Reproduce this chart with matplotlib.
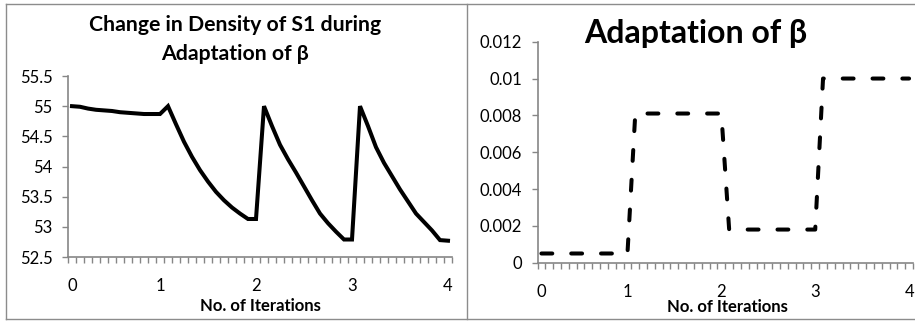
import numpy as np
import matplotlib
matplotlib.use('Agg')
import matplotlib.pyplot as plt
from matplotlib.lines import Line2D

# data (48 categories per chart)
density = [55.00, 54.99, 54.96, 54.94, 54.93, 54.92, 54.90, 54.89, 54.88, 54.87, 54.87, 54.87,
           55.00, 54.70, 54.41, 54.16, 53.94, 53.75, 53.58, 53.44, 53.32, 53.22, 53.13, 53.13,
           55.00, 54.67, 54.36, 54.12, 53.90, 53.67, 53.44, 53.22, 53.06, 52.92, 52.79, 52.79,
           55.00, 54.67, 54.32, 54.06, 53.84, 53.62, 53.42, 53.22, 53.08, 52.94, 52.78, 52.77]

beta = [0.0005, 0.0005, 0.0005, 0.0005, 0.0005, 0.0005, 0.0005, 0.0005, 0.0005, 0.0005, 0.0005, 0.0005,
        0.0081, 0.0081, 0.0081, 0.0081, 0.0081, 0.0081, 0.0081, 0.0081, 0.0081, 0.0081, 0.0081, 0.0081,
        0.0018, 0.0018, 0.0018, 0.0018, 0.0018, 0.0018, 0.0018, 0.0018, 0.0018, 0.0018, 0.0018, 0.0018,
        0.0100, 0.0100, 0.0100, 0.0100, 0.0100, 0.0100, 0.0100, 0.0100, 0.0100, 0.0100, 0.0100, 0.0100]

tick_pos = [0, 11, 23, 35, 47]
tick_labels = ['0', '1', '2', '3', '4']
density_yticks = [52.5, 53, 53.5, 54, 54.5, 55, 55.5]
density_ylabels = ['52.5', '53', '53.5', '54', '54.5', '55', '55.5']
beta_yticks = [0, 0.002, 0.004, 0.006, 0.008, 0.01, 0.012]
beta_ylabels = ['0', '0.002', '0.004', '0.006', '0.008', '0.01', '0.012']

plt.rcParams['font.family'] = ['Lato', 'DejaVu Sans']
axis_grey = '#868686'
W, H = 915, 322

fig = plt.figure(figsize=(W / 100, H / 100), dpi=100)
ax1 = fig.add_axes([68 / W, 1 - 257 / H, (452 - 68) / W, (257 - 76) / H])
ax2 = fig.add_axes([537.5 / W, 1 - 262.7 / H, (913 - 537.5) / W, (262.7 - 41.7) / H])


def style(ax, yticks, ylabels):
    for s in ['top', 'right']:
        ax.spines[s].set_visible(False)
    for s in ['left', 'bottom']:
        ax.spines[s].set_color(axis_grey)
        ax.spines[s].set_linewidth(1.2)
    ax.set_xlim(-0.5, 47.5)
    ax.set_xticks(tick_pos)
    ax.set_xticklabels(tick_labels)
    ax.set_xticks(np.arange(-0.5, 48, 1), minor=True)
    ax.tick_params(axis='x', which='major', length=0, pad=15, labelsize=12)
    ax.tick_params(axis='x', which='minor', length=4, width=1, color=axis_grey)
    ax.set_yticks(yticks)
    ax.set_yticklabels(ylabels)
    ax.tick_params(axis='y', length=4, width=1, color=axis_grey, pad=7, labelsize=12)


x = np.arange(len(density))
ax1.plot(x, density, color='black', lw=2.9, solid_joinstyle='miter', clip_on=False)
ax1.set_ylim(52.5, 55.5)
style(ax1, density_yticks, density_ylabels)

ax2.plot(x, beta, color='black', lw=2.9, linestyle=(0, (2.7, 4.7)),
         dash_capstyle='round', clip_on=False)
ax2.set_ylim(0, 0.012)
style(ax2, beta_yticks, beta_ylabels)

fig.text(235 / W, 1 - 39.5 / H, 'Change in Density of S1 during\nAdaptation of β',
         ha='center', va='center', fontsize=15.3, fontweight='bold', linespacing=1.55)
fig.text(696 / W, 1 - 34 / H, 'Adaptation of β', ha='center', va='center',
         fontsize=23, fontweight='bold')
fig.text(260 / W, 1 - 306 / H, 'No. of Iterations', ha='center', va='center',
         fontsize=12, fontweight='bold')
fig.text(727 / W, 1 - 307 / H, 'No. of Iterations', ha='center', va='center',
         fontsize=12, fontweight='bold')

# chart frames
border = '#8c8c8c'
for (x0, y0, x1, y1) in [(6, 3.5, 914.5, 3.5), (6, 319, 914.5, 319),
                         (6, 3.5, 6, 319), (466.5, 3.5, 466.5, 319)]:
    fig.add_artist(Line2D([x0 / W, x1 / W], [1 - y0 / H, 1 - y1 / H],
                          transform=fig.transFigure, color=border, lw=1))

fig.savefig('out.png', dpi=100)
